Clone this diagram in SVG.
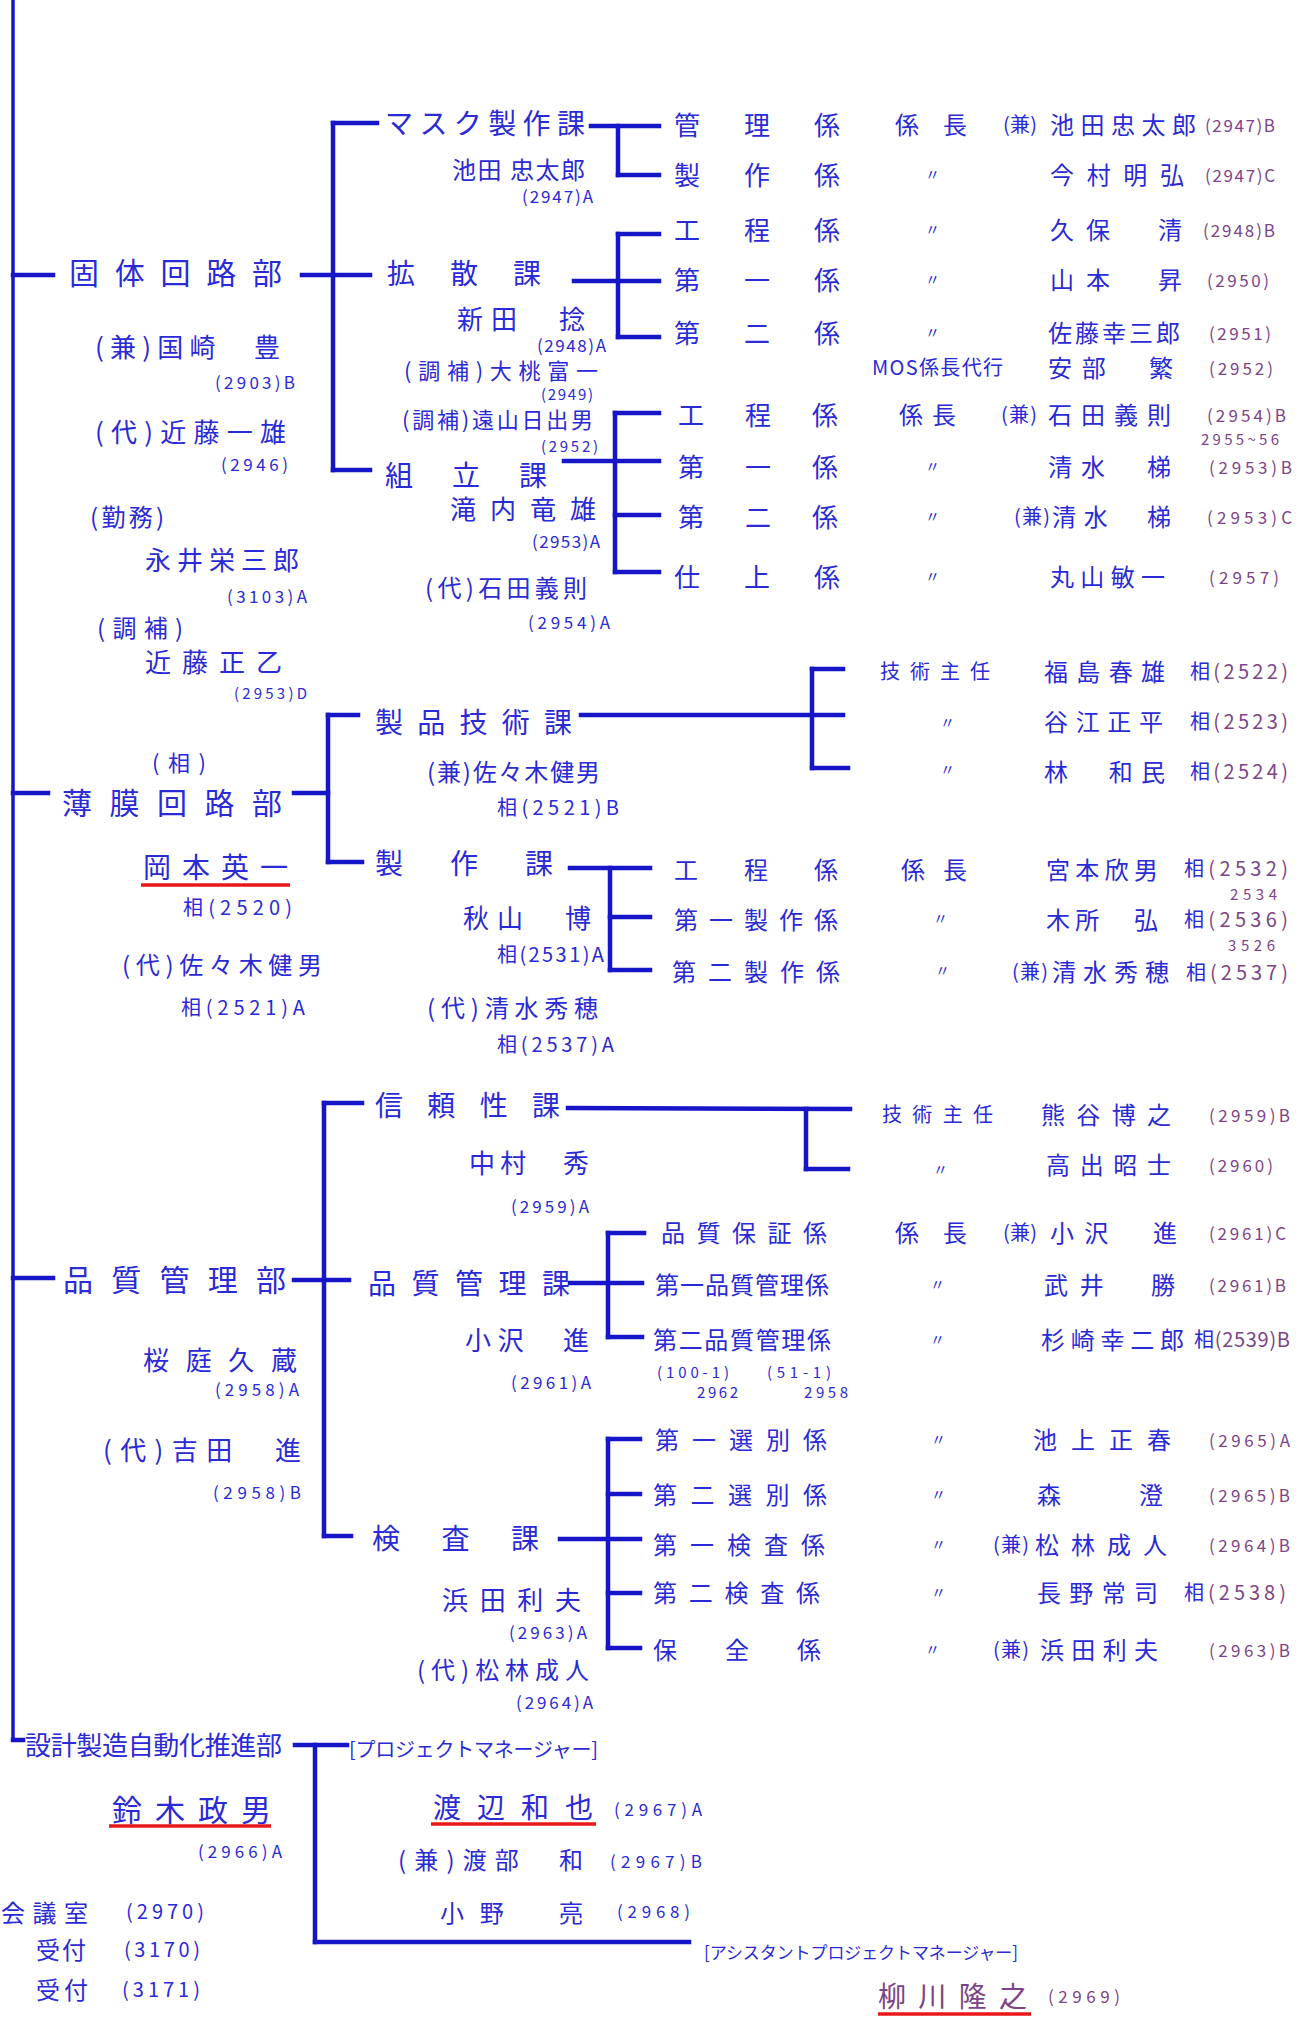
<svg xmlns="http://www.w3.org/2000/svg" width="1306" height="2018" viewBox="0 0 1306 2018">
<style>
text{font-family:"Noto Sans CJK JP","Noto Sans CJK SC",sans-serif;fill:#2a2ad6;lengthAdjust:spacing}
.p{fill:#7d4488}
.f30{font-size:30px}.f28{font-size:28px}.f26{font-size:26px}.f24{font-size:24px}.f22{font-size:22px}.f20{font-size:20px}.f17{font-size:17px}.f15{font-size:15px}
.c line{stroke:#1616c8;stroke-width:4.5;stroke-linecap:square}
.c .m{stroke-width:3.5}
.u{stroke:#e81818;stroke-width:3.5}
</style>
<rect width="1306" height="2018" fill="#ffffff"/>
<g class="c" id="connectors">
<line class="m" x1="13" y1="0" x2="13" y2="1740"/>
<line x1="13" y1="275" x2="53" y2="275"/><line x1="13" y1="793" x2="48" y2="793"/><line x1="13" y1="1278" x2="53" y2="1278"/><line x1="13" y1="1740" x2="23" y2="1740"/>
<line x1="302" y1="275" x2="370" y2="275"/><line x1="333" y1="123" x2="333" y2="470"/><line x1="333" y1="123" x2="377" y2="123"/><line x1="333" y1="470" x2="370" y2="470"/>
<line x1="591" y1="126" x2="659" y2="126"/><line x1="618" y1="126" x2="618" y2="175"/><line x1="618" y1="175" x2="659" y2="175"/>
<line x1="574" y1="281" x2="659" y2="281"/><line x1="618" y1="234" x2="618" y2="337"/><line x1="618" y1="234" x2="659" y2="234"/><line x1="618" y1="337" x2="659" y2="337"/>
<line x1="564" y1="461" x2="659" y2="461"/><line x1="615" y1="413" x2="615" y2="572"/><line x1="615" y1="413" x2="659" y2="413"/><line x1="615" y1="515" x2="659" y2="515"/><line x1="615" y1="572" x2="659" y2="572"/>
<line x1="294" y1="793" x2="328" y2="793"/><line x1="328" y1="715" x2="328" y2="862"/><line x1="328" y1="715" x2="358" y2="715"/><line x1="328" y1="862" x2="362" y2="862"/>
<line x1="581" y1="715" x2="843" y2="715"/><line x1="812" y1="669" x2="812" y2="768"/><line x1="812" y1="669" x2="843" y2="669"/><line x1="812" y1="768" x2="848" y2="768"/>
<line x1="570" y1="868" x2="650" y2="868"/><line x1="610" y1="868" x2="610" y2="970"/><line x1="610" y1="917" x2="650" y2="917"/><line x1="610" y1="970" x2="650" y2="970"/>
<line x1="294" y1="1280" x2="349" y2="1280"/><line x1="324" y1="1103" x2="324" y2="1536"/><line x1="324" y1="1103" x2="362" y2="1103"/><line x1="324" y1="1536" x2="351" y2="1536"/>
<line x1="568" y1="1108" x2="850" y2="1109"/><line x1="806" y1="1109" x2="806" y2="1169"/><line x1="806" y1="1169" x2="848" y2="1169"/>
<line x1="570" y1="1283" x2="642" y2="1283"/><line x1="608" y1="1233" x2="608" y2="1337"/><line x1="608" y1="1233" x2="644" y2="1233"/><line x1="608" y1="1337" x2="642" y2="1337"/>
<line x1="560" y1="1539" x2="640" y2="1539"/><line x1="608" y1="1439" x2="608" y2="1648"/><line x1="608" y1="1439" x2="640" y2="1439"/><line x1="608" y1="1494" x2="640" y2="1494"/><line x1="608" y1="1593" x2="640" y2="1593"/><line x1="608" y1="1648" x2="640" y2="1648"/>
<line x1="295" y1="1745" x2="347" y2="1745"/><line x1="315" y1="1745" x2="315" y2="1942"/><line x1="315" y1="1942" x2="689" y2="1942"/>
</g>

<g id="dept-kotai">
<text class="f30" x="69" y="284" textLength="213">固体回路部</text>
<text class="f26" x="95" y="357" textLength="185">(兼)国崎　豊</text>
<text class="f17" x="215" y="389" textLength="80">(2903)B</text>
<text class="f26" x="95" y="442" textLength="191">(代)近藤一雄</text>
<text class="f17" x="221" y="471" textLength="67">(2946)</text>
<text class="f24" x="90" y="526" textLength="74">(勤務)</text>
<text class="f26" x="145" y="570" textLength="154">永井栄三郎</text>
<text class="f17" x="227" y="603" textLength="80">(3103)A</text>
<text class="f24" x="97" y="637" textLength="86">(調補)</text>
<text class="f26" x="145" y="672" textLength="137">近藤正乙</text>
<text class="f15" x="234" y="699" textLength="73">(2953)D</text>
</g>

<g id="sec-mask">
<text class="f28" x="385" y="134" textLength="200">マスク製作課</text>
<text class="f24" x="452" y="179" textLength="133">池田 忠太郎</text>
<text class="f17" x="522" y="203" textLength="71">(2947)A</text>
</g>
<g id="sec-kakusan">
<text class="f28" x="387" y="284" textLength="154">拡散課</text>
<text class="f26" x="457" y="329" textLength="128">新田　捻</text>
<text class="f17" x="537" y="352" textLength="69">(2948)A</text>
<text class="f22" x="404" y="379" textLength="194">(調補)大桃富一</text>
<text class="f15" x="541" y="400" textLength="52">(2949)</text>
<text class="f22" x="402" y="428" textLength="191">(調補)遠山日出男</text>
<text class="f15" x="541" y="452" textLength="57">(2952)</text>
</g>
<g id="sec-kumitate">
<text class="f28" x="385" y="486" textLength="162">組立課</text>
<text class="f26" x="450" y="519" textLength="146">滝内竜雄</text>
<text class="f17" x="532" y="548" textLength="68">(2953)A</text>
<text class="f24" x="425" y="597" textLength="162">(代)石田義則</text>
<text class="f17" x="528" y="629" textLength="82">(2954)A</text>
</g>

<g id="row-kanri"><text class="f26" x="674" y="135" textLength="166">管理係</text><text class="f24" x="895" y="134" textLength="72">係長</text><text class="f20" x="1003" y="132" textLength="34">(兼)</text><text class="f24" x="1050" y="134" textLength="146">池田忠太郎</text><text class="f17 p" x="1205" y="132" textLength="70">(2947)B</text></g>
<g id="row-seisaku1"><text class="f26" x="674" y="185" textLength="166">製作係</text><text class="f15" x="925" y="180">〃</text><text class="f24" x="1050" y="184" textLength="134">今村明弘</text><text class="f17 p" x="1205" y="182" textLength="70">(2947)C</text></g>
<g id="row-kotei1"><text class="f26" x="674" y="240" textLength="166">工程係</text><text class="f15" x="925" y="235">〃</text><text class="f24" x="1050" y="239" textLength="132">久保　清</text><text class="f17 p" x="1203" y="237" textLength="72">(2948)B</text></g>
<g id="row-dai1"><text class="f26" x="674" y="290" textLength="166">第一係</text><text class="f15" x="925" y="285">〃</text><text class="f24" x="1050" y="289" textLength="132">山本　昇</text><text class="f17 p" x="1207" y="287" textLength="62">(2950)</text></g>
<g id="row-dai2"><text class="f26" x="674" y="343" textLength="166">第二係</text><text class="f15" x="925" y="338">〃</text><text class="f24" x="1048" y="342" textLength="132">佐藤幸三郎</text><text class="f17 p" x="1209" y="340" textLength="62">(2951)</text></g>
<g id="row-mos"><text class="f20" x="872" y="375" textLength="131">MOS係長代行</text><text class="f24" x="1048" y="377" textLength="125">安部　繁</text><text class="f17 p" x="1209" y="375" textLength="64">(2952)</text></g>

<g id="row-kotei2"><text class="f26" x="678" y="425" textLength="160">工程係</text><text class="f24" x="899" y="424" textLength="57">係長</text><text class="f20" x="1001" y="422" textLength="36">(兼)</text><text class="f24" x="1048" y="424" textLength="123">石田義則</text><text class="f17 p" x="1207" y="422" textLength="79">(2954)B</text><text class="f15 p" x="1201" y="445" textLength="78">2955~56</text></g>
<g id="row-k-dai1"><text class="f26" x="678" y="477" textLength="160">第一係</text><text class="f15" x="925" y="472">〃</text><text class="f24" x="1048" y="476" textLength="123">清水　梯</text><text class="f17 p" x="1209" y="474" textLength="83">(2953)B</text></g>
<g id="row-k-dai2"><text class="f26" x="678" y="527" textLength="160">第二係</text><text class="f15" x="925" y="522">〃</text><text class="f20" x="1014" y="524" textLength="36">(兼)</text><text class="f24" x="1052" y="526" textLength="119">清水　梯</text><text class="f17 p" x="1207" y="524" textLength="85">(2953)C</text></g>
<g id="row-shiage"><text class="f26" x="674" y="587" textLength="166">仕上係</text><text class="f15" x="925" y="582">〃</text><text class="f24" x="1050" y="586" textLength="115">丸山敏一</text><text class="f17 p" x="1209" y="584" textLength="70">(2957)</text></g>

<g id="dept-hakumaku">
<text class="f22" x="152" y="771" textLength="54">(相)</text>
<text class="f30" x="62" y="814" textLength="220">薄膜回路部</text>
<text class="f28" x="143" y="878" textLength="145">岡本英一</text>
<line class="u" x1="141" y1="885" x2="290" y2="885"/>
<text class="f20" x="183" y="915" textLength="109">相(2520)</text>
<text class="f24" x="122" y="974" textLength="200">(代)佐々木健男</text>
<text class="f20" x="181" y="1015" textLength="124">相(2521)A</text>
</g>
<g id="sec-seihingijutsu">
<text class="f28" x="375" y="733" textLength="197">製品技術課</text>
<text class="f24" x="427" y="781" textLength="173">(兼)佐々木健男</text>
<text class="f20" x="497" y="815" textLength="122">相(2521)B</text>
</g>
<g id="sec-seisaku">
<text class="f28" x="375" y="874" textLength="178">製作課</text>
<text class="f26" x="463" y="928" textLength="128">秋山　博</text>
<text class="f20" x="497" y="962" textLength="107">相(2531)A</text>
<text class="f24" x="427" y="1017" textLength="171">(代)清水秀穂</text>
<text class="f20" x="497" y="1052" textLength="117">相(2537)A</text>
</g>
<g id="row-gishu1"><text class="f20" x="880" y="679" textLength="110">技術主任</text><text class="f24" x="1044" y="681" textLength="121">福島春雄</text><text class="f20" x="1190" y="679" textLength="98">相<tspan class="p">(2522)</tspan></text></g>
<g id="row-gishu2"><text class="f15" x="940" y="728">〃</text><text class="f24" x="1044" y="731" textLength="119">谷江正平</text><text class="f20" x="1190" y="729" textLength="98">相<tspan class="p">(2523)</tspan></text></g>
<g id="row-gishu3"><text class="f15" x="940" y="775">〃</text><text class="f24" x="1044" y="781" textLength="121">林　和民</text><text class="f20" x="1190" y="779" textLength="98">相<tspan class="p">(2524)</tspan></text></g>
<g id="row-s-kotei"><text class="f24" x="674" y="879" textLength="164">工程係</text><text class="f24" x="901" y="879" textLength="66">係長</text><text class="f24" x="1046" y="879" textLength="112">宮本欣男</text><text class="f20" x="1184" y="876" textLength="104">相<tspan class="p">(2532)</tspan></text><text class="f15 p" x="1230" y="900" textLength="47">2534</text></g>
<g id="row-s-dai1"><text class="f24" x="674" y="929" textLength="164">第一製作係</text><text class="f15" x="933" y="924">〃</text><text class="f24" x="1046" y="929" textLength="112">木所　弘</text><text class="f20" x="1184" y="927" textLength="104">相<tspan class="p">(2536)</tspan></text><text class="f15 p" x="1228" y="951" textLength="47">3526</text></g>
<g id="row-s-dai2"><text class="f24" x="672" y="981" textLength="168">第二製作係</text><text class="f15" x="935" y="976">〃</text><text class="f20" x="1012" y="979" textLength="36">(兼)</text><text class="f24" x="1052" y="981" textLength="117">清水秀穂</text><text class="f20" x="1186" y="980" textLength="102">相<tspan class="p">(2537)</tspan></text></g>

<g id="dept-hinshitsu">
<text class="f30" x="63" y="1291" textLength="223">品質管理部</text>
<text class="f26" x="143" y="1370" textLength="154">桜庭久蔵</text>
<text class="f17" x="215" y="1396" textLength="84">(2958)A</text>
<text class="f26" x="103" y="1460" textLength="198">(代)吉田　進</text>
<text class="f17" x="213" y="1499" textLength="88">(2958)B</text>
</g>
<g id="sec-shinrai">
<text class="f28" x="375" y="1116" textLength="185">信頼性課</text>
<text class="f26" x="469" y="1173" textLength="120">中村　秀</text>
<text class="f17" x="511" y="1213" textLength="78">(2959)A</text>
</g>
<g id="sec-hinkan">
<text class="f28" x="368" y="1294" textLength="202">品質管理課</text>
<text class="f26" x="465" y="1350" textLength="124">小沢　進</text>
<text class="f17" x="511" y="1389" textLength="80">(2961)A</text>
</g>
<g id="sec-kensa">
<text class="f28" x="372" y="1549" textLength="167">検査課</text>
<text class="f26" x="442" y="1610" textLength="139">浜田利夫</text>
<text class="f17" x="509" y="1639" textLength="78">(2963)A</text>
<text class="f24" x="417" y="1679" textLength="172">(代)松林成人</text>
<text class="f17" x="516" y="1709" textLength="77">(2964)A</text>
</g>
<g id="row-r-gishu1"><text class="f20" x="882" y="1122" textLength="111">技術主任</text><text class="f24" x="1041" y="1124" textLength="130">熊谷博之</text><text class="f17 p" x="1209" y="1122" textLength="81">(2959)B</text></g>
<g id="row-r-gishu2"><text class="f15" x="933" y="1175">〃</text><text class="f24" x="1046" y="1174" textLength="125">高出昭士</text><text class="f17 p" x="1209" y="1172" textLength="64">(2960)</text></g>
<g id="row-hinsho"><text class="f24" x="661" y="1242" textLength="166">品質保証係</text><text class="f24" x="895" y="1242" textLength="72">係長</text><text class="f20" x="1003" y="1240" textLength="34">(兼)</text><text class="f24" x="1050" y="1242" textLength="127">小沢　進</text><text class="f17 p" x="1209" y="1240" textLength="77">(2961)C</text></g>
<g id="row-hinkan1"><text class="f24" x="655" y="1294" textLength="174">第一品質管理係</text><text class="f15" x="930" y="1290">〃</text><text class="f24" x="1044" y="1294" textLength="131">武井　勝</text><text class="f17 p" x="1209" y="1292" textLength="77">(2961)B</text></g>
<g id="row-hinkan2"><text class="f24" x="653" y="1349" textLength="178">第二品質管理係</text><text class="f15" x="930" y="1345">〃</text><text class="f24" x="1041" y="1349" textLength="143">杉崎幸二郎</text><text class="f20" x="1194" y="1347" textLength="96">相<tspan class="p">(2539)B</tspan></text>
<text class="f15" x="657" y="1378" textLength="72">(100-1)</text><text class="f15" x="767" y="1378" textLength="64">(51-1)</text><text class="f15" x="697" y="1398" textLength="41">2962</text><text class="f15" x="804" y="1398" textLength="44">2958</text></g>
<g id="row-senbetsu1"><text class="f24" x="655" y="1449" textLength="172">第一選別係</text><text class="f15" x="931" y="1445">〃</text><text class="f24" x="1033" y="1449" textLength="138">池上正春</text><text class="f17 p" x="1209" y="1447" textLength="81">(2965)A</text></g>
<g id="row-senbetsu2"><text class="f24" x="653" y="1504" textLength="174">第二選別係</text><text class="f15" x="931" y="1500">〃</text><text class="f24" x="1037" y="1504" textLength="126">森　　澄</text><text class="f17 p" x="1209" y="1502" textLength="81">(2965)B</text></g>
<g id="row-kensa1"><text class="f24" x="653" y="1554" textLength="172">第一検査係</text><text class="f15" x="931" y="1550">〃</text><text class="f20" x="993" y="1552" textLength="36">(兼)</text><text class="f24" x="1035" y="1554" textLength="132">松林成人</text><text class="f17 p" x="1209" y="1552" textLength="81">(2964)B</text></g>
<g id="row-kensa2"><text class="f24" x="653" y="1602" textLength="167">第二検査係</text><text class="f15" x="931" y="1598">〃</text><text class="f24" x="1037" y="1602" textLength="121">長野常司</text><text class="f20" x="1184" y="1600" textLength="102">相<tspan class="p">(2538)</tspan></text></g>
<g id="row-hozen"><text class="f24" x="653" y="1659" textLength="168">保全係</text><text class="f15" x="925" y="1655">〃</text><text class="f20" x="993" y="1657" textLength="36">(兼)</text><text class="f24" x="1040" y="1659" textLength="118">浜田利夫</text><text class="f17 p" x="1209" y="1657" textLength="81">(2963)B</text></g>

<g id="dept-sekkei">
<text class="f26" x="25" y="1755" textLength="257">設計製造自動化推進部</text>
<text class="f30" x="112" y="1821" textLength="159">鈴木政男</text>
<line class="u" x1="109" y1="1826" x2="271" y2="1826"/>
<text class="f17" x="198" y="1858" textLength="84">(2966)A</text>
</g>
<g id="pm">
<text class="f20" x="349" y="1757" textLength="249">[プロジェクトマネージャー]</text>
<text class="f28" x="433" y="1818" textLength="160">渡辺和也</text>
<line class="u" x1="431" y1="1824" x2="596" y2="1824"/>
<text class="f17" x="614" y="1816" textLength="88">(2967)A</text>
<text class="f24" x="398" y="1869" textLength="185">(兼)渡部　和</text>
<text class="f17" x="610" y="1868" textLength="92">(2967)B</text>
<text class="f24" x="440" y="1922" textLength="143">小野　亮</text>
<text class="f17" x="617" y="1918" textLength="73">(2968)</text>
</g>
<g id="apm">
<text class="f17" x="704" y="1959" textLength="314">[アシスタントプロジェクトマネージャー]</text>
<text class="f28 p" x="878" y="2007" textLength="149">柳川隆之</text>
<line class="u" x1="878" y1="2014" x2="1031" y2="2014"/>
<text class="f17 p" x="1048" y="2003" textLength="72">(2969)</text>
</g>
<g id="phones">
<text class="f24" x="1" y="1922" textLength="87">会議室</text><text class="f20" x="126" y="1919" textLength="78">(2970)</text>
<text class="f24" x="36" y="1959" textLength="50">受付</text><text class="f20" x="124" y="1957" textLength="76">(3170)</text>
<text class="f24" x="36" y="1999" textLength="52">受付</text><text class="f20" x="122" y="1997" textLength="78">(3171)</text>
</g>
</svg>
